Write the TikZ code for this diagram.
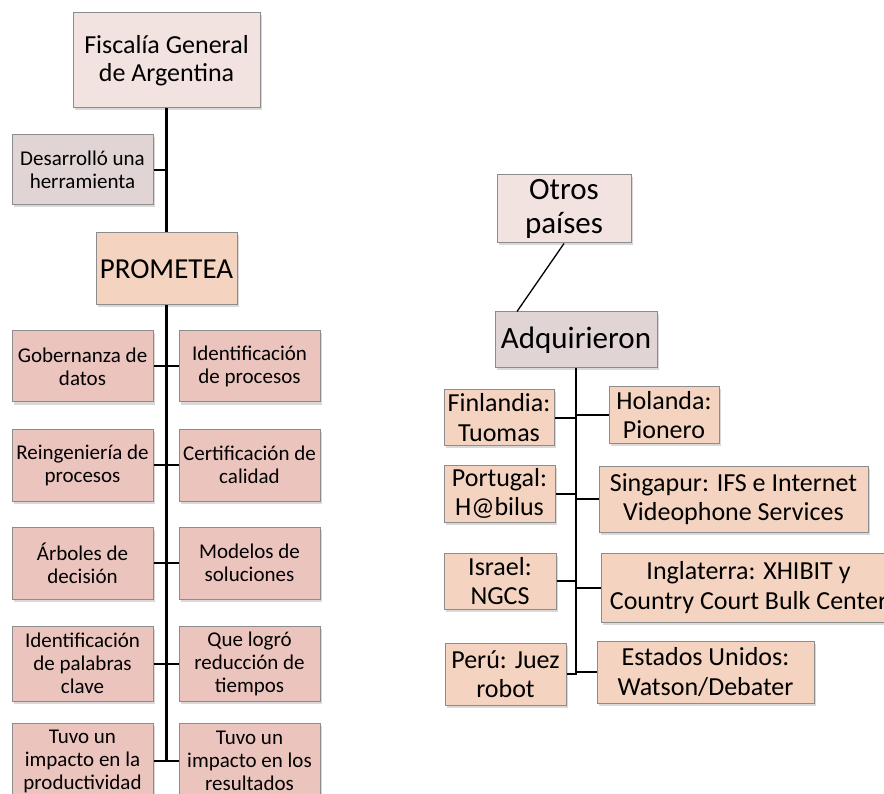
\documentclass[tikz,border=0pt]{standalone}
\usepackage{fontspec}
\setmainfont{Carlito}
\usetikzlibrary{shadows}
\definecolor{fiscfill}{RGB}{242,226,224}
\definecolor{greyfill}{RGB}{224,212,212}
\definecolor{peachfill}{RGB}{244,212,192}
\definecolor{itemfill}{RGB}{236,196,190}
\definecolor{boxborder}{RGB}{140,140,140}
\tikzset{
  box/.style={draw=boxborder, line width=1pt, inner sep=0pt, align=center,
    drop shadow={shadow xshift=2pt, shadow yshift=-2.5pt, opacity=0.3}},
  item/.style={box, fill=itemfill, minimum width=141pt, font=\fontsize{21}{23}\selectfont},
  country/.style={box, fill=peachfill, font=\fontsize{26}{29.5}\selectfont},
  trunk/.style={line width=3pt},
  branch/.style={line width=2pt},
  thinline/.style={line width=1.3pt}
}
\begin{document}
\begin{tikzpicture}[x=1pt,y=-1pt]
\useasboundingbox (0,0) rectangle (884,794);
\clip (0,0) rectangle (884,794);
% ---------- left tree ----------
\node[box, fill=fiscfill, minimum width=187pt, minimum height=95pt, font=\fontsize{26}{28.5}\selectfont] (fisc) at (166.5,60.5) {Fiscalía General\\de Argentina};
\node[box, fill=greyfill, minimum width=141pt, minimum height=70pt, font=\fontsize{21}{23.5}\selectfont] (desa) at (82.5,170) {Desarrolló una\\herramienta};
\node[box, fill=peachfill, minimum width=141pt, minimum height=72pt, font=\fontsize{29}{32}\selectfont] (prom) at (166.5,269) {PROMETEA};
\node[item, minimum height=71pt] (l1) at (82.5,366.5) {Gobernanza de\\datos};
\node[item, minimum height=71pt] (r1) at (249.5,366.5) {Identificación\\de procesos};
\node[item, minimum height=72pt] (l2) at (82.5,465) {Reingeniería de\\procesos};
\node[item, minimum height=72pt] (r2) at (249.5,465) {Certificación de\\calidad};
\node[item, minimum height=72pt] (l3) at (82.5,563) {Árboles de\\decisión};
\node[item, minimum height=72pt] (r3) at (249.5,563) {Modelos de\\soluciones};
\node[item, minimum height=75pt] (l4) at (82.5,663.5) {Identificación\\de palabras\\clave};
\node[item, minimum height=75pt] (r4) at (249.5,663.5) {Que logró\\reducción de\\tiempos};
\node[item, minimum height=76pt] (l5) at (82.5,761) {Tuvo un\\impacto en la\\productividad};
\node[item, minimum height=76pt] (r5) at (249.5,761) {Tuvo un\\impacto en los\\resultados};
\coordinate (ltrunkend) at (166.5,761.5);
\draw[trunk] (fisc.south) -- (prom.north);
\draw[trunk] (prom.south) -- (ltrunkend);
\draw[branch] (desa.east) -- (desa.east -| fisc.south);
\foreach \n in {1,...,5}{
  \draw[branch] (l\n.east) -- (r\n.west);
}
% ---------- right tree ----------
\node[box, fill=fiscfill, minimum width=134pt, minimum height=68pt, font=\fontsize{31}{34}\selectfont] (otros) at (564,209) {Otros\\países};
\node[box, fill=greyfill, minimum width=162pt, minimum height=56pt, font=\fontsize{31}{34}\selectfont] (adq) at (576,340) {Adquirieron};
\node[country, minimum width=110pt, minimum height=55pt] (fin) at (499,417.5) {Finlandia:\\Tuomas};
\node[country, minimum width=110pt, minimum height=56pt] (hol) at (664,415) {Holanda:\\Pionero};
\node[country, minimum width=111pt, minimum height=57pt] (por) at (499.5,493.5) {Portugal:\\H@bilus};
\node[country, minimum width=269pt, minimum height=66pt] (sing) at (733.5,499) {Singapur: IFS e Internet\\Videophone Services};
\node[country, minimum width=112pt, minimum height=56pt] (isr) at (500,581) {Israel:\\NGCS};
\node[country, minimum width=295pt, minimum height=69pt] (ingl) at (748.5,587.5) {Inglaterra: XHIBIT y\\Country Court Bulk Center};
\node[country, minimum width=121pt, minimum height=62pt] (peru) at (505.5,674) {Perú: Juez\\robot};
\node[country, minimum width=217pt, minimum height=62pt] (eeuu) at (705.5,672) {Estados Unidos:\\Watson/Debater};
\coordinate (rtrunkend) at (576,675);
\draw[thinline] (otros.south) -- ([xshift=-59pt]adq.north);
\draw[branch, line width=2.5pt] (adq.south) -- (rtrunkend);
\foreach \n in {fin,por,isr,peru}{
  \draw[branch] (\n.east) -- (\n.east -| adq.south);
}
\foreach \n in {hol,sing,ingl,eeuu}{
  \draw[branch] (\n.west) -- (\n.west -| adq.south);
}
\end{tikzpicture}
\end{document}
